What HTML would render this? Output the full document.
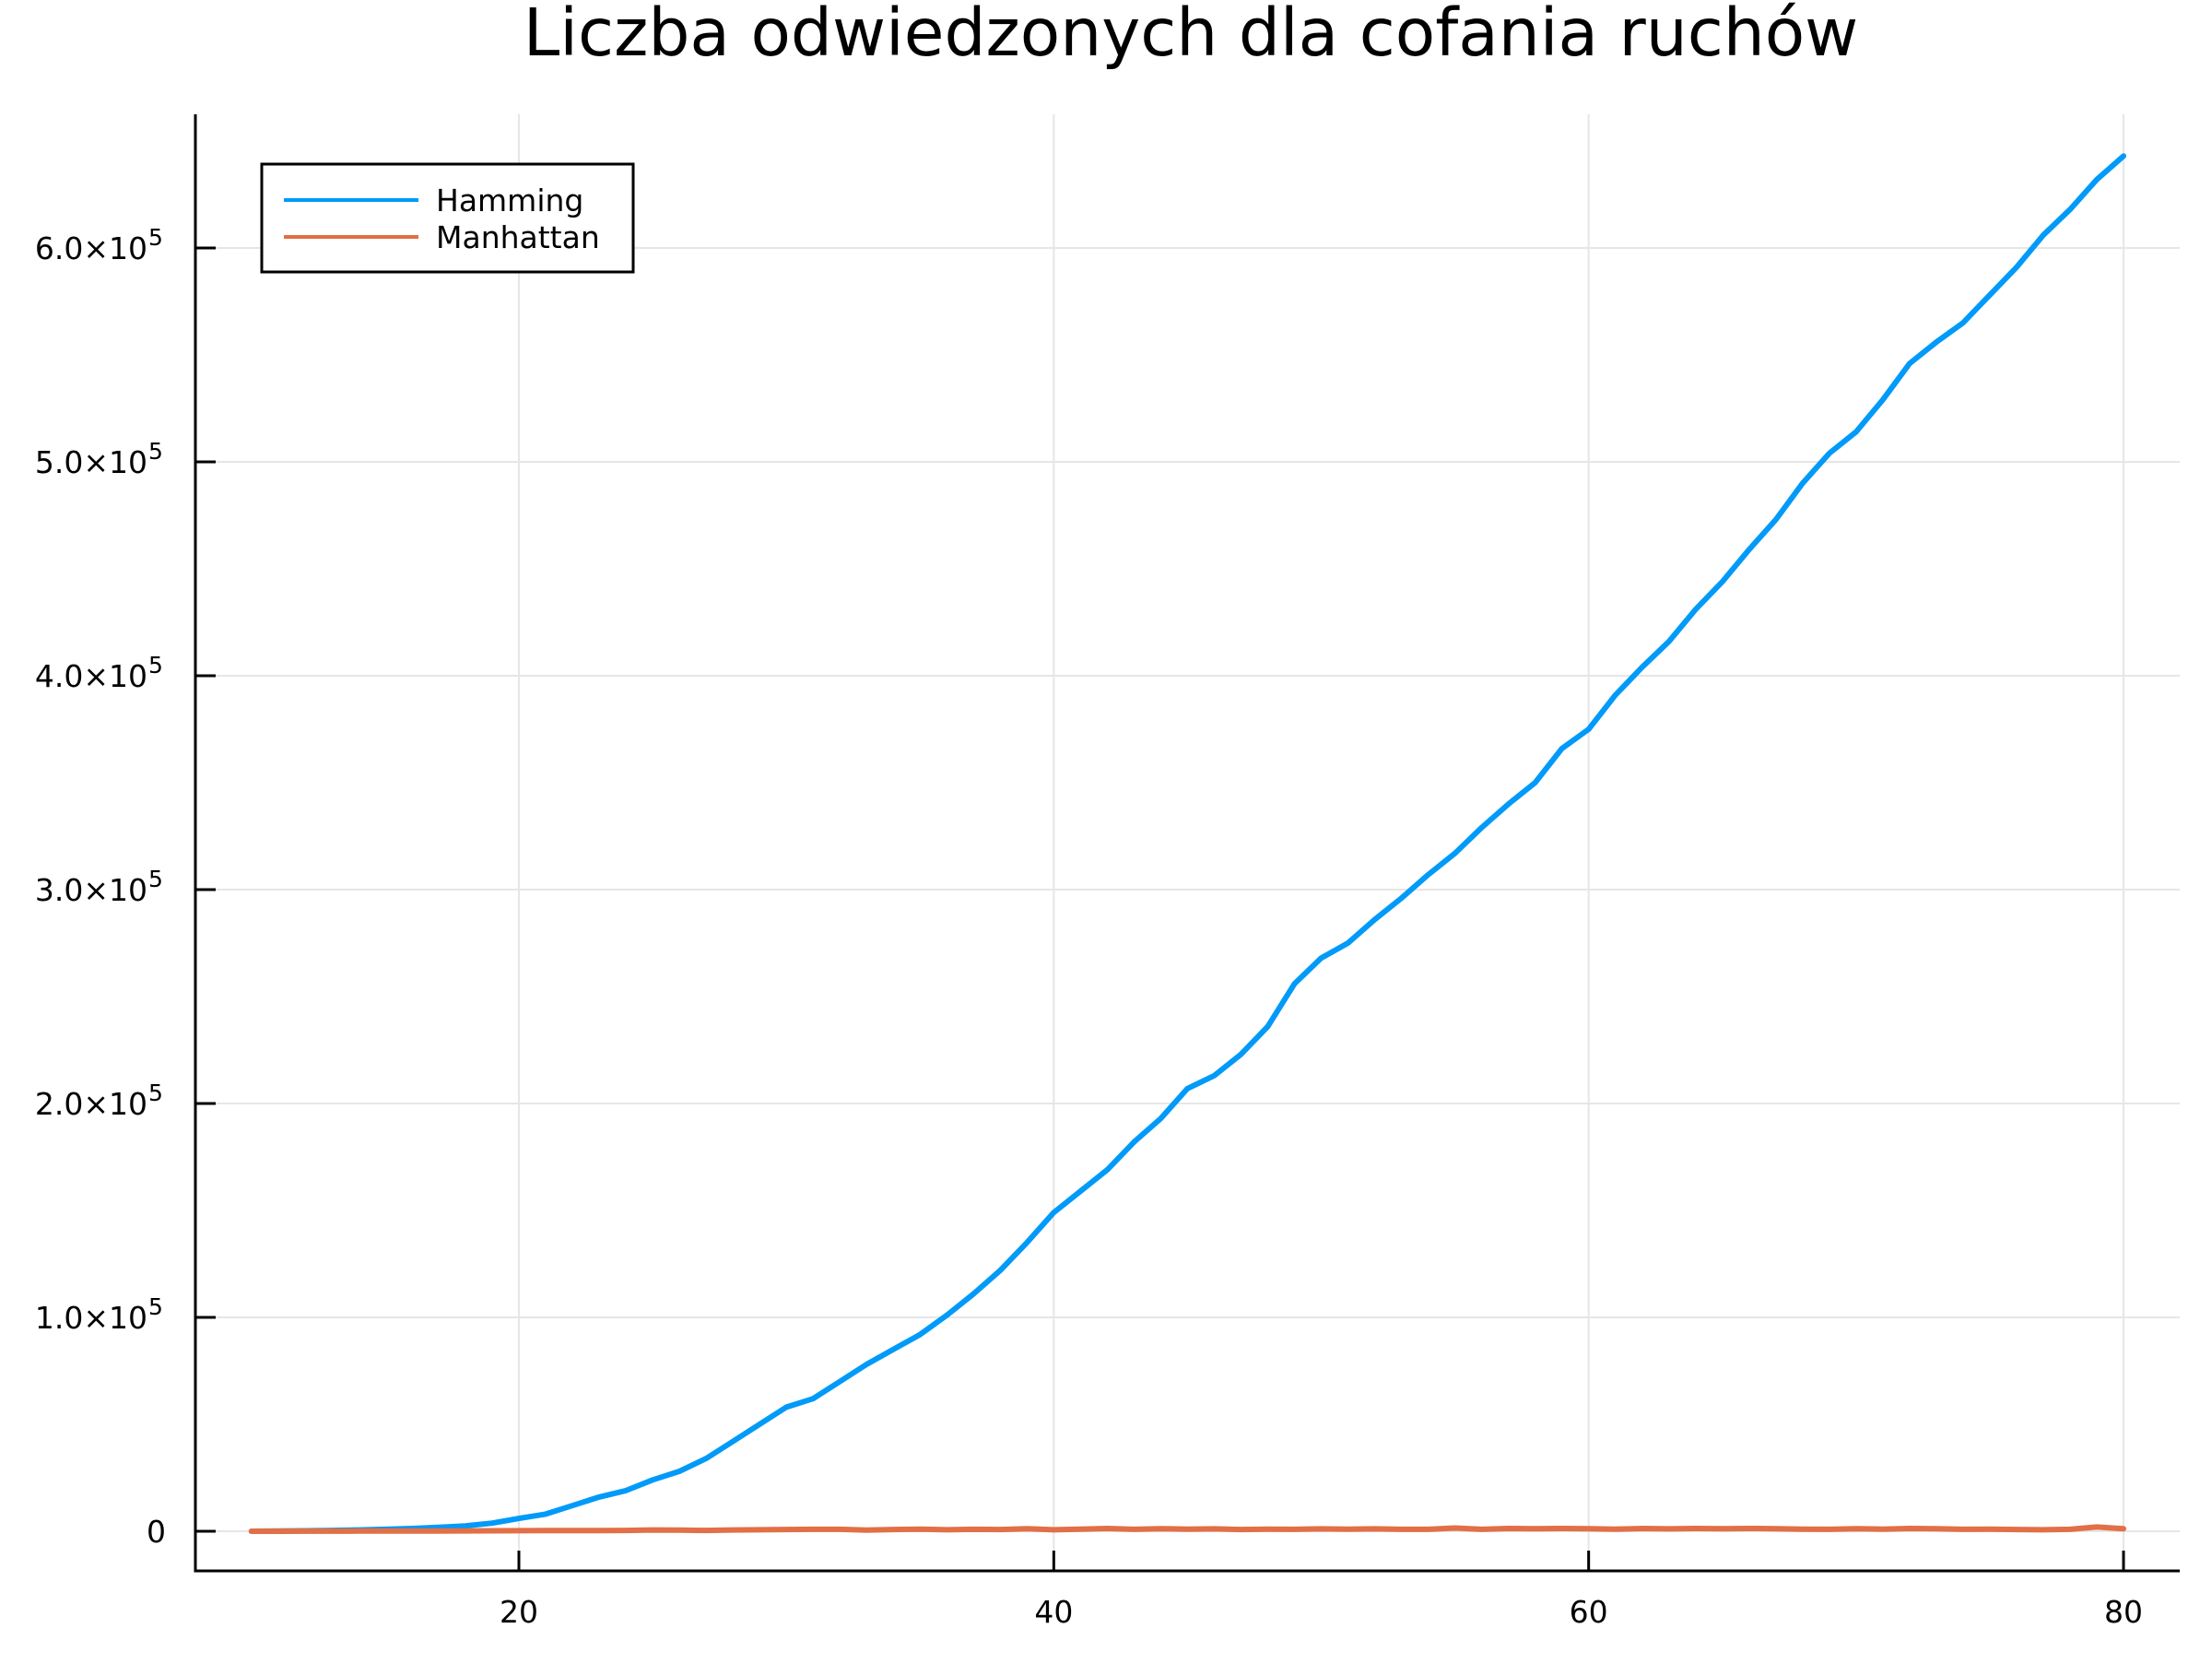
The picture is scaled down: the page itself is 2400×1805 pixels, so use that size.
<!DOCTYPE html>
<html><head><meta charset="utf-8"><style>
html,body{margin:0;padding:0;background:#fff}
svg text{font-family:"DejaVu Sans","Liberation Sans",sans-serif}
</style></head><body>
<svg id="chart" width="2400" height="1800" viewBox="0 0 2400 1800" xmlns="http://www.w3.org/2000/svg">
<rect width="2400" height="1800" fill="#fff"/>
<text x="1292" y="60" font-size="71" text-anchor="middle">Liczba odwiedzonych dla cofania ruchów</text>
<g id="grid"></g>
<g id="axes"></g>
<g id="series"></g>
<g>
<rect x="284" y="178" width="403" height="117" fill="#fff" stroke="#000" stroke-width="3"/>
<line x1="308" y1="217" x2="454" y2="217" stroke="#009af9" stroke-width="4"/>
<text x="473" y="229" font-size="33">Hamming</text>
<line x1="308" y1="257" x2="454" y2="257" stroke="#e26f46" stroke-width="4"/>
<text x="473" y="269" font-size="33">Manhattan</text>
</g>
</svg>
<script>
const xs = [10,11,12,13,14,15,16,17,18,19,20,21,22,23,24,25,26,27,28,29,30,31,32,33,34,35,36,37,38,39,40,41,42,43,44,45,46,47,48,49,50,51,52,53,54,55,56,57,58,59,60,61,62,63,64,65,66,67,68,69,70,71,72,73,74,75,76,77,78,79,80];
const hamming = [0,100,200,400,600,900,1300,1800,2500,3800,6000,8000,12000,16000,19000,24000,28000,34000,42000,50000,58000,62000,70000,78000,85000,92000,101000,111000,122000,135000,149000,159000,169000,182000,193000,207000,213000,223000,236000,256000,268000,275000,286000,296000,307000,317000,329000,340000,350000,366000,375000,391000,404000,416000,431000,444000,459000,473000,490000,504000,514000,529000,546000,556000,565000,578000,591000,606000,618000,632000,643000];
const manhattan = [0,20,40,60,80,100,120,150,180,200,250,300,350,300,400,600,500,400,600,700,800,900,900,500,800,1000,700,900,800,1200,700,1000,1300,900,1200,1000,1100,800,1000,900,1100,1000,1100,900,900,1500,900,1300,1200,1300,1200,1000,1300,1100,1300,1200,1300,1200,1000,900,1200,1000,1300,1200,900,1000,800,700,900,2000,1200];
const xTicks = [20,40,60,80];
const yTicks = [0,100000,200000,300000,400000,500000,600000];
const yTickLabels = ["0","1.0×10","2.0×10","3.0×10","4.0×10","5.0×10","6.0×10"];

const L=212,R=2365,T=124,B=1704;
const xScale = v => 563 + (v-20)*(2304-563)/60;
const yScale = v => 1661 - v*(1661-269)/600000;
const NS="http://www.w3.org/2000/svg";
function mk(tag, attrs, parent){const e=document.createElementNS(NS,tag);for(const k in attrs)e.setAttribute(k,attrs[k]);parent.appendChild(e);return e;}
const grid=document.getElementById('grid'), axes=document.getElementById('axes'), series=document.getElementById('series');
xTicks.forEach(t=>{
  const g=mk('line',{x1:xScale(t),x2:xScale(t),y1:T,y2:B,stroke:'#e6e6e6','stroke-width':2},grid);
  
  
  const tk=mk('line',{x1:xScale(t),x2:xScale(t),y1:B,y2:B-22,stroke:'#000','stroke-width':3},axes);
  
  
  const tx=mk('text',{x:xScale(t),y:B+56,'font-size':33,'text-anchor':'middle'},axes);
  tx.textContent=t;
  
  
});
yTicks.forEach((t,i)=>{
  const y=yScale(t);
  const g=mk('line',{x1:L,x2:R,y1:y,y2:y,stroke:'#e6e6e6','stroke-width':2},grid);
  
  
  const tk=mk('line',{x1:L,x2:L+22,y1:y,y2:y,stroke:'#000','stroke-width':3},axes);
  
  
  const tx=mk('text',{x:i===0?180:160,y:y+12,'font-size':33,'text-anchor':'end'},axes);
  tx.textContent=yTickLabels[i];
  
  
  if(i>0){
    const sup=mk('text',{x:161,y:y-3,'font-size':25},axes);
    sup.textContent='5';
    
    
  }
});
const ax=mk('path',{d:`M${L},${T} L${L},${B} L${R},${B}`,fill:'none',stroke:'#000','stroke-width':3},axes);


function line(vals,color,name){
  const d=xs.map((x,i)=>(i?'L':'M')+xScale(x).toFixed(1)+','+yScale(vals[i]).toFixed(1)).join(' ');
  const p=mk('path',{d:d,fill:'none',stroke:color,'stroke-width':6,'stroke-linejoin':'round','stroke-linecap':'round'},series);
  
  
}
line(hamming,'#009af9','hamming-line');
line(manhattan,'#e26f46','manhattan-line');
</script>
</body></html>
